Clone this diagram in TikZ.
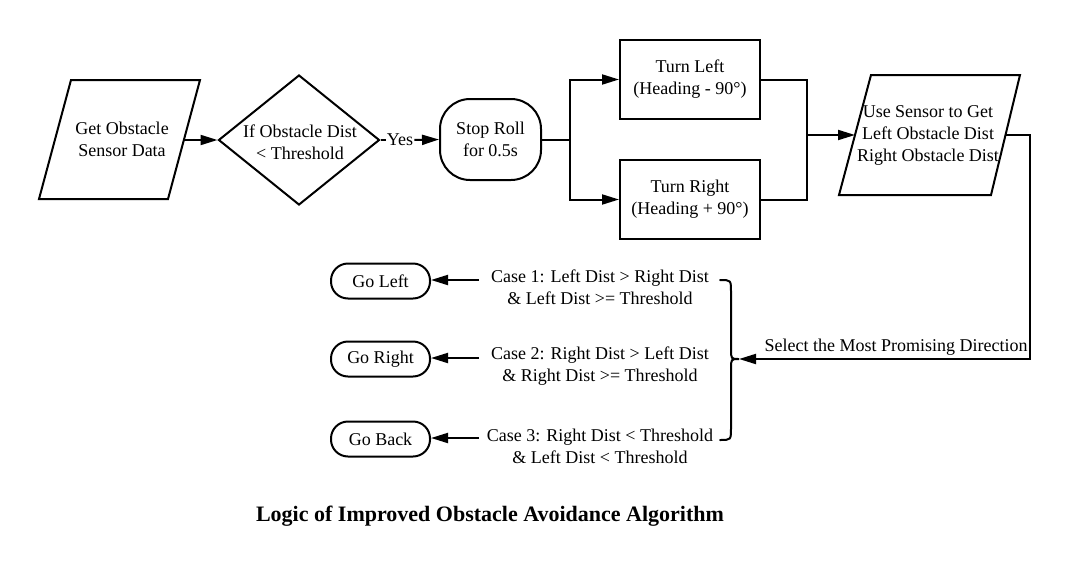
\documentclass[tikz,border=0pt]{standalone}
\usepackage{fontspec}
\setmainfont{Liberation Serif}
\usetikzlibrary{arrows.meta,shapes.geometric}
\tikzset{
  ln/.style={line width=2pt},
  arr/.style={line width=2pt,-{Triangle[length=17pt,width=10pt]}},
  txt/.style={font=\fontsize{18}{22}\selectfont,align=center,inner sep=0pt},
  procbox/.style={draw,line width=2pt,rectangle,minimum width=140pt,minimum height=79pt,font=\fontsize{18}{22}\selectfont,align=center},
  termbox/.style={draw,line width=2pt,rectangle,rounded corners=#1,font=\fontsize{18}{22}\selectfont,align=center},
}
\begin{document}
\begin{tikzpicture}[x=1pt,y=-1pt]
\useasboundingbox (0,0) rectangle (1090,560);
% parallelogram 1
\draw[ln,line join=miter] (71,80) -- (200,80) -- (168,199) -- (39,199) -- cycle;
\node[txt] (p1) at (122,139) {Get Obstacle\\Sensor Data};
\coordinate (p1e) at (184,140);
% diamond
\node[draw,ln,diamond,minimum width=161pt,minimum height=130pt,inner sep=0pt] (d) at (299,140) {};
\node[txt] (dt) at (300,142) {If Obstacle Dist\\< Threshold};
\draw[arr] (p1e) -- (d.west);
% stop roll
\node[termbox=30pt,minimum width=101pt,minimum height=81pt] (s) at (490.5,139.5) {Stop Roll\\for 0.5s};
\node[txt,inner sep=1pt] (yes) at (400,140) {Yes};
\draw[ln] (d.east) -- (yes.west);
\draw[arr] (yes.east) -- (s.west);
% turn boxes
\node[procbox] (tl) at (690,79.5) {Turn Left\\(Heading - 90°)};
\node[procbox] (tr) at (690,199.5) {Turn Right\\(Heading + 90°)};
\coordinate (br) at (570,139.5);
\draw[arr] (s.east) -- (br) |- (tl.west);
\draw[arr] (br) |- (tr.west);
\coordinate (mg) at (807,135);
\draw[ln] (tl.east) -| (mg);
\draw[ln] (tr.east) -| (mg);
% parallelogram 2
\draw[ln,line join=miter] (871,75) -- (1020,75) -- (991,195) -- (839,195) -- cycle;
\node[txt] (p2) at (928,135) {Use Sensor to Get\\Left Obstacle Dist\\Right Obstacle Dist};
\coordinate (p2w) at (855,135);
\coordinate (p2e) at (1005,135);
\draw[arr] (mg) -- (p2w);
% brace
\coordinate (bt) at (739,359);
\draw[ln,line cap=round] (720,280) .. controls (731,280) .. (731,292) -- (731,349) .. controls (731,359) .. (bt)
  .. controls (731,359) .. (731,369) -- (731,428) .. controls (731,440) .. (720,440);
\coordinate (rc) at (1030,359);
\draw[arr] (p2e) -| (rc) -- (bt);
\node[txt,anchor=base] (sel) at (896,351) {Select the Most Promising Direction};
% go boxes
\node[termbox=17pt,minimum width=99pt,minimum height=35pt] (gl) at (380.5,281) {Go Left};
\node[termbox=17pt,minimum width=99pt,minimum height=35pt] (gr) at (380.5,359) {Go Right};
\node[termbox=17pt,minimum width=99pt,minimum height=35pt] (gb) at (380.5,439) {Go Back};
\node[txt] (c1) at (600,287) {Case 1: Left Dist > Right Dist\\\& Left Dist >= Threshold};
\node[txt] (c2) at (600,366) {Case 2: Right Dist > Left Dist\\\& Right Dist >= Threshold};
\node[txt] (c3) at (600,446) {Case 3: Right Dist < Threshold\\\& Left Dist < Threshold};
\coordinate (c1s) at (479,280);
\coordinate (c2s) at (479,358);
\coordinate (c3s) at (479,438);
\draw[arr] (c1s) -- (c1s -| gl.east);
\draw[arr] (c2s) -- (c2s -| gr.east);
\draw[arr] (c3s) -- (c3s -| gb.east);
% title
\node[font=\fontsize{22}{26}\selectfont\bfseries,inner sep=0pt] (title) at (490,516) {Logic of Improved Obstacle Avoidance Algorithm};
\end{tikzpicture}
\end{document}
